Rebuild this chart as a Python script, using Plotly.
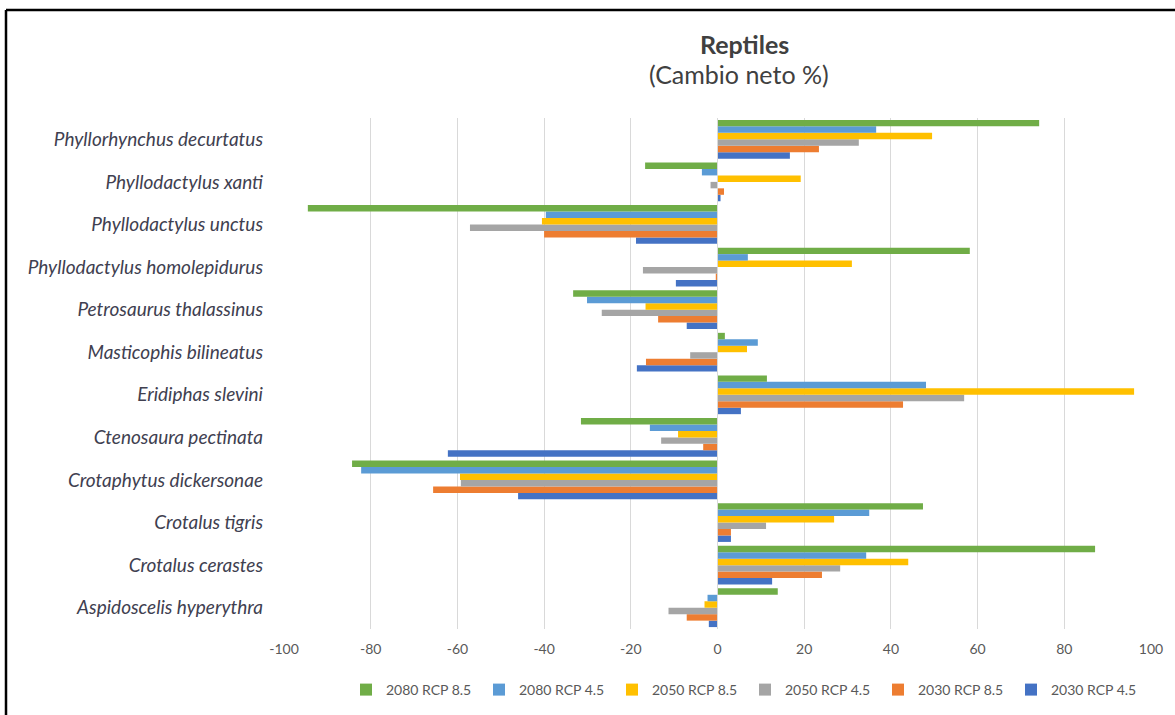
import plotly.graph_objects as go

# Species, listed bottom-to-top as they sit on the category axis
species = [
    "Aspidoscelis hyperythra",
    "Crotalus cerastes",
    "Crotalus tigris",
    "Crotaphytus dickersonae",
    "Ctenosaura pectinata",
    "Eridiphas slevini",
    "Masticophis bilineatus",
    "Petrosaurus thalassinus",
    "Phyllodactylus homolepidurus",
    "Phyllodactylus unctus",
    "Phyllodactylus xanti",
    "Phyllorhynchus decurtatus",
]

# Net change (%) per scenario, same species order as above
rcp45_2030 = [-2.0, 12.6, 3.1, -46.0, -62.2, 5.4, -18.6, -7.1, -9.6, -18.8, 0.7, 16.7]
rcp85_2030 = [-7.1, 24.1, 3.1, -65.6, -3.3, 42.8, -16.5, -13.7, -0.4, -40.0, 1.5, 23.4]
rcp45_2050 = [-11.3, 28.3, 11.2, -59.2, -13.0, 56.9, -6.3, -26.7, -17.2, -57.1, -1.6, 32.6]
rcp85_2050 = [-3.0, 44.0, 26.9, -59.4, -9.1, 96.1, 6.8, -16.6, 31.0, -40.5, 19.2, 49.5]
rcp45_2080 = [-2.3, 34.3, 35.0, -82.2, -15.6, 48.1, 9.3, -30.1, 7.0, -39.6, -3.6, 36.6]
rcp85_2080 = [13.9, 87.1, 47.4, -84.3, -31.5, 11.4, 1.7, -33.3, 58.2, -94.5, -16.7, 74.2]

series = [
    ("2030 RCP 4.5", rcp45_2030, "#4472C4"),
    ("2030 RCP 8.5", rcp85_2030, "#ED7D31"),
    ("2050 RCP 4.5", rcp45_2050, "#A5A5A5"),
    ("2050 RCP 8.5", rcp85_2050, "#FFC000"),
    ("2080 RCP 4.5", rcp45_2080, "#5B9BD5"),
    ("2080 RCP 8.5", rcp85_2080, "#70AD47"),
]

x_ticks = list(range(-100, 101, 20))
x_tick_labels = [str(v) for v in x_ticks]

fig = go.Figure()
for name, vals, color in series:
    fig.add_trace(go.Bar(
        y=species, x=vals, name=name, orientation="h",
        marker=dict(color=color, line=dict(width=0)),
    ))

W, H = 1175, 715
L, R, T, B = 284, 24, 118, 86
pw, ph = W - L - R, H - T - B


def px_x(p):
    return (p - L) / pw


def px_y(p):
    return 1 - (p - T) / ph


FONT = "Lato"

fig.update_layout(
    width=W, height=H,
    margin=dict(l=L, r=R, t=T, b=B, pad=0, autoexpand=False),
    paper_bgcolor="white", plot_bgcolor="white",
    barmode="group", bargap=0.09, bargroupgap=0,
    showlegend=True,
    legend=dict(
        orientation="h", traceorder="reversed",
        x=px_x(346), xanchor="left", y=px_y(690), yanchor="middle",
        font=dict(family=FONT, size=14, color="#595959"),
        itemwidth=30, entrywidth=88, itemsizing="constant",
        bgcolor="rgba(0,0,0,0)",
    ),
    xaxis=dict(
        range=[-100, 100], tickmode="array",
        tickvals=x_ticks, ticktext=x_tick_labels,
        tickfont=dict(family=FONT, size=14, color="#595959"),
        ticklabelstandoff=10,
        showgrid=True, gridcolor="#D9D9D9", gridwidth=1,
        zeroline=False, showline=False, ticks="",
    ),
    yaxis=dict(
        tickmode="array", tickvals=species,
        ticktext=[f"<i>{s}</i>" for s in species],
        tickfont=dict(family=FONT, size=19, color="#404050"),
        ticklabelstandoff=20,
        showgrid=False, showline=False, ticks="",
    ),
    shapes=[
        # zero line / category axis
        dict(type="line", xref="x", yref="paper", x0=0, x1=0, y0=0, y1=1,
             line=dict(color="#D9D9D9", width=1)),
        # frame around the chart
        dict(type="line", xref="paper", yref="paper",
             x0=px_x(6), x1=px_x(6), y0=px_y(10), y1=px_y(H + 5),
             line=dict(color="black", width=2.5)),
        dict(type="line", xref="paper", yref="paper",
             x0=px_x(6), x1=px_x(W + 5), y0=px_y(10), y1=px_y(10),
             line=dict(color="black", width=2.5)),
    ],
    annotations=[
        dict(text="<b>Reptiles</b>", xref="paper", yref="paper",
             x=px_x(744), y=px_y(44), showarrow=False,
             xanchor="center", yanchor="middle",
             font=dict(family=FONT, size=25, color="#404040")),
        dict(text="(Cambio neto %)", xref="paper", yref="paper",
             x=px_x(739), y=px_y(74), showarrow=False,
             xanchor="center", yanchor="middle",
             font=dict(family=FONT, size=25, color="#404040")),
    ],
)

fig.write_html("out.html")
